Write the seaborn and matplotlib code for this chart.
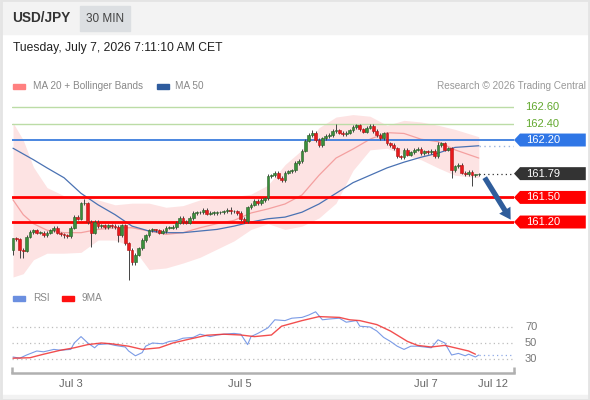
import numpy as np
import pandas as pd
import seaborn as sns
import matplotlib.pyplot as plt
from matplotlib.patches import Polygon, Rectangle

# ---- data ----
first_open = 160.86
closes = [
    161.00, 160.99, 160.86, 160.85, 161.02, 161.08, 161.10, 161.07, 161.07, 161.04,
    161.07, 161.10, 161.13, 161.07, 161.05, 161.04, 161.03, 161.13, 161.26, 161.24,
    161.43, 161.43, 161.20, 161.07, 161.20, 161.15, 161.16, 161.14, 161.16, 161.15,
    161.14, 161.04, 161.16, 160.94, 160.86, 160.71, 160.80, 160.88, 160.98, 161.04,
    161.10, 161.11, 161.10, 161.07, 161.09, 161.13, 161.13, 161.14, 161.19, 161.25,
    161.20, 161.19, 161.25, 161.31, 161.32, 161.32, 161.35, 161.30, 161.31, 161.31,
    161.32, 161.32, 161.33, 161.35, 161.33, 161.33, 161.31, 161.24, 161.21, 161.38,
    161.41, 161.46, 161.43, 161.47, 161.49, 161.76, 161.77, 161.80, 161.74, 161.71,
    161.80, 161.82, 161.83, 161.92, 161.94, 162.07, 162.19, 162.26, 162.29, 162.20,
    162.14, 162.22, 162.25, 162.26, 162.31, 162.32, 162.29, 162.27, 162.29, 162.32,
    162.36, 162.38, 162.33, 162.30, 162.35, 162.37, 162.31, 162.26, 162.22, 162.28,
    162.16, 162.14, 162.10, 162.00, 161.99, 162.08, 162.02, 162.05, 162.08, 162.09,
    162.04, 162.06, 162.05, 162.07, 162.00, 162.14, 162.16, 162.08, 162.10, 161.83,
    161.88, 161.90, 161.80, 161.78, 161.81, 161.77, 161.78, 161.79,
]
wick_up = [
    0.01, 0.02, 0.02, 0.02, 0.02, 0.02, 0.02, 0.01, 0.02, 0.02,
    0.02, 0.02, 0.02, 0.02, 0.01, 0.02, 0.02, 0.02, 0.02, 0.02,
    0.02, 0.05, 0.02, 0.02, 0.02, 0.02, 0.01, 0.02, 0.02, 0.02,
    0.02, 0.02, 0.02, 0.02, 0.02, 0.02, 0.02, 0.02, 0.02, 0.02,
    0.02, 0.02, 0.01, 0.02, 0.02, 0.02, 0.02, 0.02, 0.02, 0.02,
    0.02, 0.02, 0.02, 0.02, 0.02, 0.01, 0.02, 0.02, 0.02, 0.02,
    0.02, 0.02, 0.02, 0.02, 0.03, 0.02, 0.02, 0.02, 0.02, 0.02,
    0.02, 0.02, 0.02, 0.02, 0.02, 0.02, 0.02, 0.02, 0.02, 0.02,
    0.02, 0.02, 0.02, 0.02, 0.03, 0.02, 0.02, 0.02, 0.03, 0.02,
    0.02, 0.02, 0.02, 0.02, 0.02, 0.08, 0.02, 0.02, 0.02, 0.02,
    0.02, 0.02, 0.02, 0.02, 0.02, 0.02, 0.02, 0.02, 0.02, 0.02,
    0.02, 0.02, 0.02, 0.02, 0.02, 0.02, 0.02, 0.02, 0.02, 0.02,
    0.02, 0.02, 0.02, 0.02, 0.02, 0.03, 0.02, 0.02, 0.02, 0.02,
    0.02, 0.02, 0.02, 0.02, 0.02, 0.02, 0.01, 0.01,
]
wick_dn = [
    0.06, 0.02, 0.10, 0.09, 0.02, 0.02, 0.03, 0.02, 0.02, 0.02,
    0.02, 0.02, 0.02, 0.02, 0.02, 0.03, 0.03, 0.02, 0.02, 0.02,
    0.02, 0.02, 0.02, 0.18, 0.02, 0.02, 0.02, 0.02, 0.02, 0.02,
    0.02, 0.08, 0.02, 0.02, 0.37, 0.03, 0.03, 0.02, 0.02, 0.02,
    0.02, 0.02, 0.02, 0.02, 0.02, 0.02, 0.02, 0.02, 0.02, 0.02,
    0.02, 0.02, 0.02, 0.02, 0.02, 0.02, 0.02, 0.02, 0.02, 0.02,
    0.02, 0.02, 0.02, 0.02, 0.03, 0.02, 0.02, 0.03, 0.02, 0.02,
    0.02, 0.02, 0.02, 0.02, 0.02, 0.02, 0.02, 0.02, 0.02, 0.02,
    0.02, 0.02, 0.02, 0.02, 0.02, 0.02, 0.02, 0.02, 0.02, 0.02,
    0.02, 0.02, 0.02, 0.02, 0.02, 0.02, 0.02, 0.02, 0.02, 0.02,
    0.02, 0.02, 0.02, 0.02, 0.02, 0.02, 0.02, 0.02, 0.02, 0.02,
    0.02, 0.02, 0.02, 0.02, 0.02, 0.02, 0.02, 0.02, 0.02, 0.02,
    0.02, 0.02, 0.02, 0.02, 0.02, 0.02, 0.02, 0.02, 0.02, 0.09,
    0.02, 0.02, 0.02, 0.02, 0.02, 0.13, 0.02, 0.02,
]

band_idx = [0, 3, 6, 10, 15, 20, 25, 30, 35, 40, 45, 50, 55, 60, 65,
            70, 75, 80, 85, 90, 95, 100, 105, 110, 115, 120, 125, 130, 137]
band_upper = [162.41, 162.20, 161.87, 161.62, 161.52, 161.51, 161.47, 161.41, 161.43, 161.43,
              161.38, 161.40, 161.47, 161.49, 161.51, 161.54, 161.65, 161.90, 162.08, 162.35,
              162.48, 162.51, 162.49, 162.38, 162.44, 162.42, 162.38, 162.33, 162.24]
band_lower = [160.53, 160.57, 160.74, 160.82, 160.82, 160.83, 160.98, 160.98, 160.90, 160.62,
              160.64, 160.70, 160.77, 160.87, 160.97, 161.11, 161.18, 161.11, 161.15, 161.25,
              161.43, 161.83, 162.08, 162.10, 162.02, 161.96, 161.86, 161.77, 161.74]
ma20 = [161.47, 161.29, 161.18, 161.10, 161.07, 161.07, 161.11, 161.13, 161.13, 161.09,
        161.05, 161.07, 161.13, 161.18, 161.22, 161.31, 161.36, 161.42, 161.53, 161.77,
        161.98, 162.09, 162.21, 162.29, 162.28, 162.21, 162.18, 162.08, 161.98]
ma50 = [162.10, 162.03, 161.96, 161.86, 161.74, 161.55, 161.41, 161.29, 161.15, 161.09,
        161.07, 161.07, 161.09, 161.11, 161.15, 161.20, 161.24, 161.26, 161.32, 161.42,
        161.55, 161.68, 161.77, 161.86, 161.93, 161.99, 162.04, 162.11, 162.13]

rsi_idx = [0, 2, 4, 7, 9, 12, 14, 17, 18, 20, 22, 24, 25, 28, 30, 33, 34, 36, 38, 39,
           41, 44, 46, 48, 50, 53, 55, 58, 60, 62, 65, 67, 69, 70, 72, 75, 77, 80, 82, 85,
           87, 89, 91, 93, 96, 98, 101, 102, 105, 107, 109, 111, 113, 115, 117, 119, 121, 123, 125, 127,
           129, 131, 133, 134, 136, 137]
rsi_vals = [32.5, 31, 35, 40, 39, 42, 41, 42, 50, 58, 50, 44, 48, 49, 47, 45, 40, 34, 38, 46,
            50, 49, 52, 53, 56, 57, 61, 58, 60, 61, 62, 61, 48, 58, 62, 69, 79, 78, 81, 82,
            85, 89, 79, 80, 81, 76, 78, 71, 70, 65, 57, 52, 46, 42, 46, 46, 45, 44, 54, 50,
            35, 37, 34, 36, 32.5, 35]
ma9_idx = [0, 5, 9, 14, 18, 22, 26, 29, 34, 38, 43, 47, 51, 57, 62, 67, 71, 76, 79, 85,
           90, 96, 99, 102, 107, 111, 116, 119, 123, 127, 131, 134, 136]
ma9_vals = [31, 31.6, 36, 41, 44, 48, 50, 49, 46, 42, 44, 50, 54, 59.7, 61, 60, 58, 60, 71, 78,
            83, 82, 79, 78, 73, 65, 52, 47, 45, 47, 43, 40, 36]

levels = [162.60, 162.40, 162.20, 161.50, 161.20]
level_kinds = ["support_far", "support_far", "pivot", "target", "target"]
last_price = 161.79
date_ticks = [17.1, 66.8, 121.5, 141.2]
date_labels = ["Jul 3", "Jul 5", "Jul 7", "Jul 12"]
rsi_levels = [30, 50, 70]

# ---- style ----
sns.set_style("white")
plt.rcParams["font.family"] = ["Liberation Sans", "DejaVu Sans"]

W, H = 590, 400
fig = plt.figure(figsize=(5.9, 4), dpi=100)


def px_axes(x0, y0, x1, y1):
    return fig.add_axes([x0 / W, 1 - y1 / H, (x1 - x0) / W, (y1 - y0) / H])


def fx(x):
    return x / W


def fy(y):
    return 1 - y / H


XL = (-0.3, 147.35)

# header strip, frame
fig.patches.append(Rectangle((0, fy(34)), 1, 34 / H, transform=fig.transFigure,
                             color="#f3f3f3", zorder=0))
fig.patches.append(Rectangle((fx(80), fy(31)), 50 / W, 25 / H, transform=fig.transFigure,
                             color="#dcdfe2", zorder=1))
fig.patches.append(Rectangle((0, 0), 1, 5 / H, transform=fig.transFigure,
                             color="#f2f2f2", zorder=0))
fig.patches.append(Rectangle((0.001, 0.001), 0.998, 0.998, transform=fig.transFigure,
                             fill=False, edgecolor="#e4e4e4", lw=2, zorder=1))
fig.text(fx(12), fy(18), "USD/JPY", fontsize=9.8, fontweight="bold", color="#333333", va="center")
fig.text(fx(105), fy(18.5), "30 MIN", fontsize=8.5, color="#444444", va="center", ha="center")
fig.text(fx(13), fy(48), "Tuesday, July 7, 2026 7:11:10 AM CET", fontsize=8.7,
         color="#222222", va="center")

# legends
fig.patches.append(Rectangle((fx(13), fy(89)), 12 / W, 5 / H, transform=fig.transFigure, color="#ff8080"))
fig.text(fx(33), fy(86), "MA 20 + Bollinger Bands", fontsize=7.2, color="#888888", va="center")
fig.patches.append(Rectangle((fx(157), fy(89)), 12 / W, 5 / H, transform=fig.transFigure, color="#2f5c9e"))
fig.text(fx(175), fy(86), "MA 50", fontsize=7.2, color="#888888", va="center")
fig.text(fx(586), fy(86), "Research \u00a9 2026 Trading Central", fontsize=7.2, color="#999999",
         va="center", ha="right")
fig.patches.append(Rectangle((fx(13), fy(301)), 12 / W, 5 / H, transform=fig.transFigure, color="#6b8fe0"))
fig.text(fx(33), fy(298), "RSI", fontsize=7.2, color="#888888", va="center")
fig.patches.append(Rectangle((fx(62), fy(301)), 12 / W, 5 / H, transform=fig.transFigure, color="#ff1010"))
fig.text(fx(82), fy(298), "9MA", fontsize=7.2, color="#888888", va="center")

# ---- price panel ----
ax = px_axes(12, 100, 514, 285)
n = len(closes)
opens = [first_open] + closes[:-1]
df = pd.DataFrame({"i": np.arange(n), "open": opens, "close": closes,
                   "wu": wick_up, "wd": wick_dn})
df["top"] = df[["open", "close"]].max(axis=1)
df["bot"] = df[["open", "close"]].min(axis=1)
df["up"] = df["close"] >= df["open"]

ax.fill_between(band_idx, band_lower, band_upper, color="#fde3e3", lw=0, zorder=1)
sns.lineplot(x=band_idx, y=ma20, ax=ax, color="#f4a0a0", lw=0.9, zorder=2)
sns.lineplot(x=band_idx, y=ma50, ax=ax, color="#4a72b3", lw=0.9, zorder=2)

for lv, kind in zip(levels, level_kinds):
    if kind == "support_far":
        ax.axhline(lv, color="#bcdca6", lw=1, zorder=2)
    elif kind == "pivot":
        ax.axhline(lv, color="#3b7ddd", lw=1.3, zorder=2)
    else:
        ax.axhline(lv, color="#ff0000", lw=2, zorder=2)

ax.vlines(df["i"], df["bot"] - df["wd"], df["top"] + df["wu"], color="#444444", lw=0.7, zorder=3)
ax.bar(df["i"], (df["top"] - df["bot"]).clip(lower=0.008), bottom=df["bot"], width=0.78,
       color=np.where(df["up"], "#3a8f3a", "#e8191c"),
       edgecolor=np.where(df["up"], "#2a5e2a", "#b01414"), linewidth=0.4, zorder=4)

ax.hlines(last_price, n - 1, XL[1], colors="#333333", linestyles=(0, (1, 2.5)), lw=0.9, zorder=2)
ax.hlines(ma50[-1], n - 1, XL[1], colors="#9db5dc", linestyles=(0, (1, 2.5)), lw=1.0, zorder=2)

ax.annotate("", xy=(146.8, levels[-1]), xytext=(138.3, last_price - 0.02),
            arrowprops=dict(arrowstyle="simple,head_width=0.95,head_length=0.8,tail_width=0.38",
                            color="#2f5d9b", lw=0, mutation_scale=10), zorder=6)

tr = ax.get_yaxis_transform()
tag_colors = {"pivot": "#2f76e6", "target": "#ff0000"}
h = 0.079


def tag(y, text, color):
    pts = [(1.0, y), (1.012, y + h), (1.143, y + h), (1.143, y - h), (1.012, y - h)]
    ax.add_patch(Polygon(pts, closed=True, transform=tr, facecolor=color, edgecolor="none",
                         clip_on=False, zorder=5))
    ax.text(1.024, y, text, transform=tr, color="white", fontsize=8, va="center", ha="left",
            clip_on=False, zorder=6)


for lv, kind in zip(levels, level_kinds):
    if kind == "support_far":
        ax.text(1.022, lv, f"{lv:.2f}", transform=tr, color="#62a82e", fontsize=8,
                va="center", ha="left", clip_on=False)
    else:
        tag(lv, f"{lv:.2f}", tag_colors[kind])
tag(last_price, f"{last_price:.2f}", "#333333")

ax.set_xlim(*XL)
ax.set_ylim(160.432, 162.688)
ax.axis("off")

# ---- RSI panel ----
ax2 = px_axes(12, 300, 514, 373)
for v in rsi_levels:
    ax2.axhline(v, color="#bdbdbd", lw=0.9, ls=(0, (1, 2.5)), zorder=1)
    ax2.text(1.022, v, str(v), transform=ax2.get_yaxis_transform(), color="#777777",
             fontsize=8, va="center", ha="left", clip_on=False)
sns.lineplot(x=rsi_idx, y=rsi_vals, ax=ax2, color="#7b9be6", lw=0.8, zorder=2)
sns.lineplot(x=ma9_idx, y=ma9_vals, ax=ax2, color="#f03030", lw=1.0, alpha=0.85, zorder=3)
ax2.hlines(rsi_vals[-1], rsi_idx[-1], XL[1], colors="#8ea9e6", linestyles=(0, (1, 2.5)), lw=0.9)

ax2.set_xlim(*XL)
ax2.set_ylim(12.5, 103.75)
for s in ["top", "left", "right"]:
    ax2.spines[s].set_visible(False)
ax2.spines["bottom"].set_color("#b0b0b0")
ax2.spines["bottom"].set_linewidth(1.8)
for xe in (0, 1):
    ax2.plot([xe, xe], [0, 0.08], transform=ax2.transAxes, color="#b0b0b0", lw=1.8,
             clip_on=False, solid_capstyle="butt")
ax2.set_yticks([])
ax2.set_xticks(date_ticks)
ax2.set_xticklabels(date_labels)
ax2.tick_params(axis="x", length=0, pad=4, labelsize=8, labelcolor="#666666")
ax2.set_xlabel("")
ax2.set_ylabel("")
ax2.patch.set_alpha(0)

fig.savefig("out.png", dpi=100)
